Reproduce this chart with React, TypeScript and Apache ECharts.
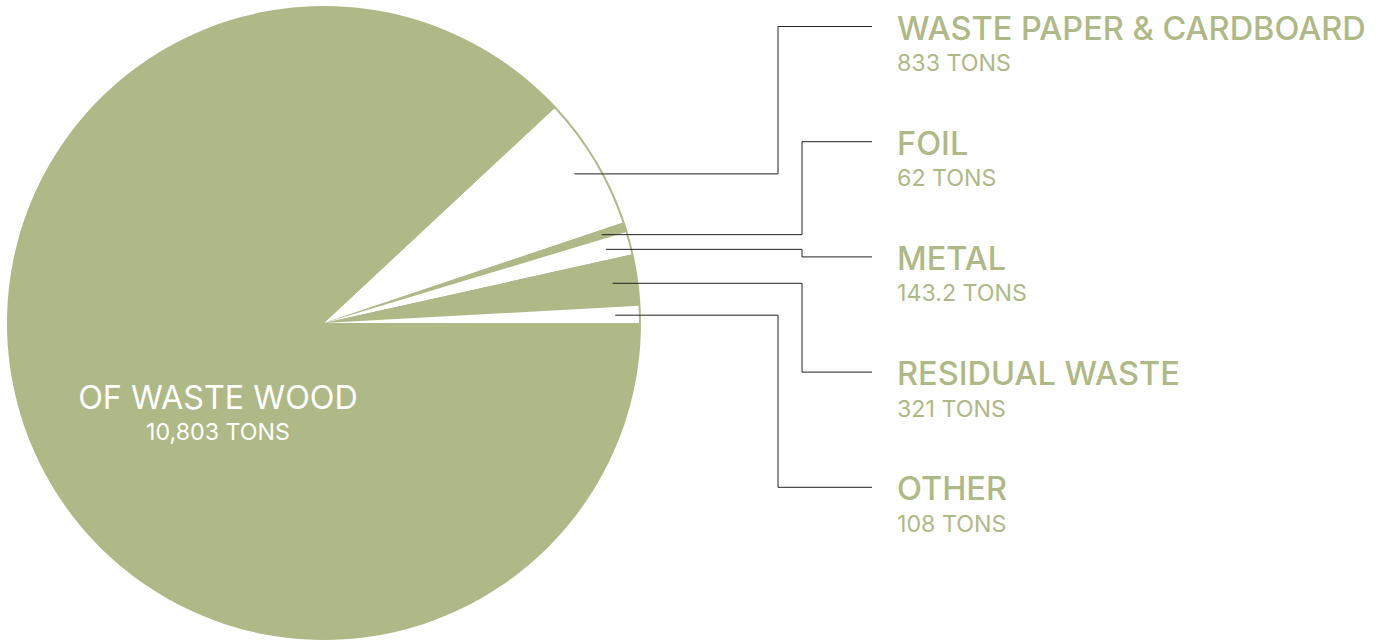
import React, { useEffect, useRef } from "react";
import * as echarts from "echarts";

// ---- data ----
const categories = [
  "WASTE PAPER & CARDBOARD",
  "FOIL",
  "METAL",
  "RESIDUAL WASTE",
  "OTHER",
  "OF WASTE WOOD",
];
const tons = [833, 62, 143.2, 321, 108, 10803];
const tonLabels = ["833 TONS", "62 TONS", "143.2 TONS", "321 TONS", "108 TONS", "10,803 TONS"];

// ---- styles / layout ----
const GREEN = "#AFB887";
const WHITE = "#FFFFFF";
const LINE = "#222222";
const SLICE_COLORS = [WHITE, GREEN, WHITE, GREEN, WHITE, GREEN];
const FONT = "Inter, 'Open Sans', sans-serif";
const W = 1386;
const H = 644;
const CX = 324;
const CY = 323;
const R = 317;
const RING = 2;
const START_ANGLE = 43;
const LABEL_X = 897;
const ROW0 = 45.5;
const ROW_STEP = 115.2;
const LINE_END_X = 872;
const ELBOW_OUTER = 778;
const ELBOW_INNER = 802;
const START_FRAC = 0.925;
const INSIDE_DX = -106;
const INSIDE_DY = 91.5;

// fallback mid-angle (screen radians) if the series layout cannot be read
function fallbackMid(i: number): number {
  const total = tons.reduce((a, b) => a + b, 0);
  let cum = 0;
  for (let k = 0; k < i; k++) cum += tons[k];
  return (-START_ANGLE + ((cum + tons[i] / 2) / total) * 360) * (Math.PI / 180);
}

export default function App() {
  const ref = useRef<HTMLDivElement>(null);

  useEffect(() => {
    if (!ref.current) return;
    const chart = echarts.init(ref.current, undefined, { renderer: "svg" });
    const last = categories.length - 1;

    const option: any = {
      animation: false,
      backgroundColor: "#ffffff",
      series: [
        {
          type: "pie",
          silent: true,
          center: [CX, CY],
          radius: R,
          label: { show: false },
          labelLine: { show: false },
          emphasis: { disabled: true },
          itemStyle: { color: GREEN, borderWidth: 0 },
          data: [{ value: 1, name: "bg" }],
        },
        {
          type: "pie",
          silent: true,
          center: [CX, CY],
          radius: R - RING,
          startAngle: START_ANGLE,
          clockwise: true,
          avoidLabelOverlap: false,
          emphasis: { disabled: true },
          itemStyle: { borderWidth: 0 },
          label: {
            show: true,
            position: "outside",
            formatter: (p: any) =>
              p.dataIndex === last
                ? `{wn|${categories[p.dataIndex]}}\n{wv|${tonLabels[p.dataIndex]}}`
                : `{n|${categories[p.dataIndex]}}\n{v|${tonLabels[p.dataIndex]}}`,
            rich: {
              n: { fontFamily: FONT, fontSize: 32.5, fontWeight: 500, lineHeight: 35, color: GREEN },
              v: { fontFamily: FONT, fontSize: 23.2, fontWeight: 400, lineHeight: 35, color: GREEN },
              wn: { fontFamily: FONT, fontSize: 32.3, fontWeight: 400, lineHeight: 35, color: WHITE },
              wv: { fontFamily: FONT, fontSize: 23.2, fontWeight: 400, lineHeight: 35, color: WHITE },
            },
          },
          labelLine: { show: false },
          labelLayout: (p: any) => {
            const i = p.dataIndex;
            if (i === last) {
              return { x: CX + INSIDE_DX, y: CY + INSIDE_DY, align: "center", verticalAlign: "middle" };
            }
            return { x: LABEL_X, y: ROW0 + ROW_STEP * i, align: "left", verticalAlign: "middle" };
          },
          data: categories.map((name, i) => ({
            name,
            value: tons[i],
            itemStyle: { color: SLICE_COLORS[i] },
            ...(i === last ? { label: { position: "inside" } } : {}),
          })),
        },
      ],
    };
    chart.setOption(option);

    // connector lines, anchored at each slice's mid-angle from the pie layout
    let layouts: any[] = [];
    try {
      const data = (chart as any).getModel().getSeriesByIndex(1).getData();
      layouts = categories.map((_, i) => data.getItemLayout(i));
    } catch (e) {
      layouts = [];
    }
    const connectors = categories.slice(0, last).map((_, i) => {
      const lay = layouts[i];
      const mid = lay ? (lay.startAngle + lay.endAngle) / 2 : fallbackMid(i);
      const cx = lay ? lay.cx : CX;
      const cy = lay ? lay.cy : CY;
      const r = (lay ? lay.r : R - RING) * START_FRAC;
      const sx = cx + Math.cos(mid) * r;
      const sy = cy + Math.sin(mid) * r;
      const endY = ROW0 + ROW_STEP * i - 19;
      const ex = i === 0 || i === last - 1 ? ELBOW_OUTER : ELBOW_INNER;
      return {
        type: "polyline",
        z: 100,
        silent: true,
        shape: {
          points: [
            [sx, sy],
            [ex, sy],
            [ex, endY],
            [LINE_END_X, endY],
          ],
        },
        style: { stroke: LINE, lineWidth: 1, fill: "none" },
      };
    });
    chart.setOption({ graphic: connectors });

    return () => chart.dispose();
  }, []);

  return (
    <div
      ref={ref}
      style={{ position: "fixed", left: 0, top: 0, width: W, height: H, background: "#fff" }}
    />
  );
}
